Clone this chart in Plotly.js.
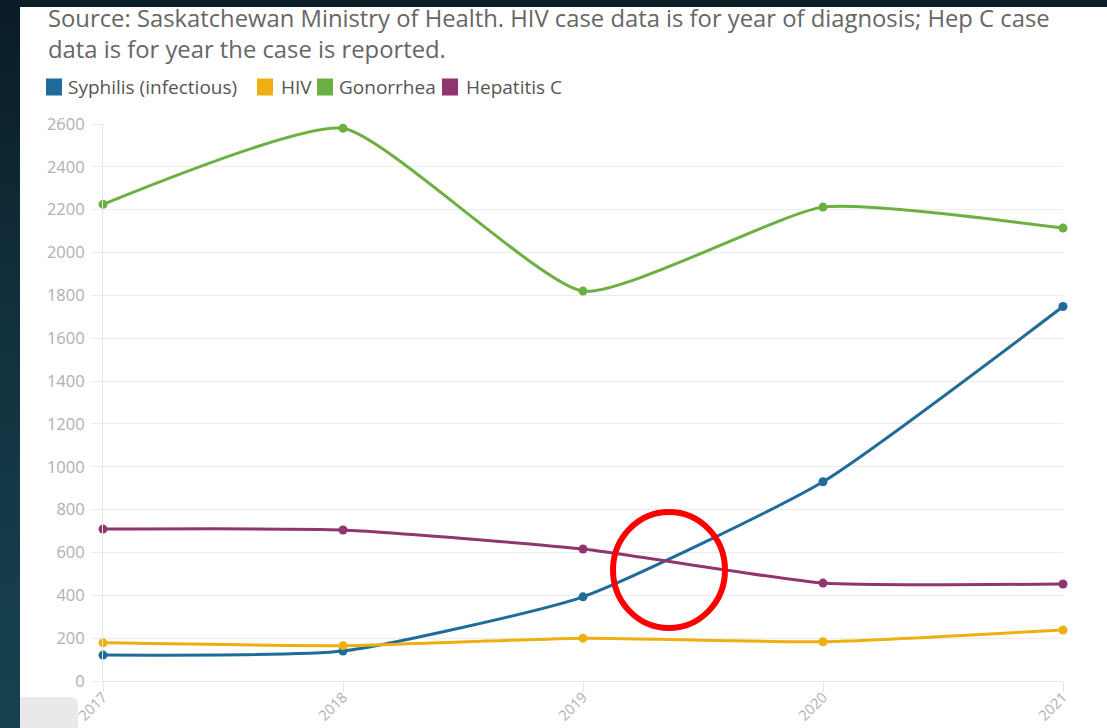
<!DOCTYPE html>
<html>
<head>
<meta charset="utf-8">
<script src="https://cdn.plot.ly/plotly-3.0.1.min.js"></script>
<style>
  html, body { margin:0; padding:0; width:1107px; height:728px; overflow:hidden;
    background: linear-gradient(180deg, #0a1c25 0%, #0f2a36 30%, #143a48 70%, #16414f 100%); }
  #chart { position:absolute; left:20px; top:0px; width:1087px; height:728px; background:#fff; }
  #topbar { position:absolute; left:0; top:0; width:1107px; height:7px; background:#0a1d26; z-index:5; }
  #tab { position:absolute; left:20px; top:697px; width:58px; height:31px; background:#e9e9ec; border-top-right-radius:8px; z-index:5; }
</style>
</head>
<body>
<div id="chart"></div>
<div id="topbar"></div>
<div id="tab"></div>
<script>
// ---- data ----
const years = [2017, 2018, 2019, 2020, 2021];
const syphilis = [121, 140, 393, 930, 1748];
const hiv = [178, 165, 200, 183, 238];
const gonorrhea = [2225, 2580, 1820, 2212, 2114];
const hepatitisC = [709, 705, 616, 457, 453];
const seriesNames = ["Syphilis (infectious)", "HIV", "Gonorrhea", "Hepatitis C"];
const yTicks = [0, 200, 400, 600, 800, 1000, 1200, 1400, 1600, 1800, 2000, 2200, 2400, 2600];
const titleLines = ["Source: Saskatchewan Ministry of Health. HIV case data is for year of diagnosis; Hep C case",
                    "data is for year the case is reported."];

// ---- styles ----
const colors = ["#1f6b99", "#eeb011", "#6cb042", "#913571"];
const seriesValues = [syphilis, hiv, gonorrhea, hepatitisC];
const FONT = "Open Sans, Lato, sans-serif";

// plot area in page px: left 103, right 1063, top 124, bottom 681
const PL = 103, PR = 1063, PT = 124, PB = 681;
const DIV_LEFT = 20, DIV_W = 1087, DIV_H = 728;
const px2x = p => (p - PL) / (PR - PL);
const px2y = p => (PB - p) / (PB - PT);

const traces = seriesValues.map((vals, i) => ({
  x: years, y: vals, name: seriesNames[i], type: "scatter", mode: "lines+markers",
  line: { color: colors[i], width: 3, shape: "spline", smoothing: 0.5 },
  marker: { color: colors[i], size: 9 },
  cliponaxis: false, showlegend: false, hoverinfo: "x+y+name"
}));

const shapes = [];
const annotations = [];

// title (one wrapped paragraph, real text)
annotations.push({
  xref: "paper", yref: "paper", x: px2x(46), y: px2y(33.5),
  xanchor: "left", yanchor: "middle", align: "left", showarrow: false,
  text: titleLines.join("<br>"),
  font: { family: FONT, size: 23.8, color: "#666" }
});

// manual compact legend
const legendSquareLeft = [47, 258, 318, 443];
const legendTextLeft = [66, 279, 337, 464];
const legendCenterY = 87;
seriesNames.forEach((nm, i) => {
  const l = legendSquareLeft[i], r = l + 14, t = legendCenterY - 7.5, b = legendCenterY + 7.5;
  shapes.push({
    type: "rect", xref: "paper", yref: "paper",
    x0: px2x(l), x1: px2x(r), y0: px2y(b), y1: px2y(t),
    fillcolor: colors[i], line: { width: 2, color: colors[i] }, layer: "above"
  });
  annotations.push({
    xref: "paper", yref: "paper", x: px2x(legendTextLeft[i]), y: px2y(legendCenterY),
    xanchor: "left", yanchor: "middle", showarrow: false, text: nm,
    font: { family: FONT, size: 19, color: "#555" }
  });
});

// red highlight circle
shapes.push({
  type: "circle", xref: "paper", yref: "paper",
  x0: px2x(613), x1: px2x(725), y0: px2y(628), y1: px2y(512),
  line: { color: "#ff0000", width: 6 }, fillcolor: "rgba(0,0,0,0)", layer: "above"
});

const layout = {
  width: DIV_W, height: DIV_H,
  margin: { l: PL - DIV_LEFT, r: DIV_W - (PR - DIV_LEFT), t: PT, b: DIV_H - PB, pad: 0 },
  paper_bgcolor: "#ffffff", plot_bgcolor: "#ffffff",
  xaxis: {
    range: [2017, 2021], tickvals: years, ticktext: years.map(String),
    tickangle: -45, showgrid: false, zeroline: false,
    showline: true, linecolor: "#e6e6e6", linewidth: 1,
    ticks: "outside", ticklen: 10, tickcolor: "#e6e6e6", ticklabelstandoff: -9,
    tickfont: { family: FONT, size: 14.5, color: "#b0b0b0" }, fixedrange: true
  },
  yaxis: {
    range: [0, 2600], tickvals: yTicks, showgrid: true, gridcolor: "#ececec", gridwidth: 1,
    zeroline: false, showline: true, linecolor: "#e6e6e6", linewidth: 1,
    ticks: "outside", ticklen: 11, tickcolor: "#ececec", ticklabelstandoff: 3,
    tickfont: { family: FONT, size: 16.5, color: "#b0b0b0" }, fixedrange: true
  },
  shapes: shapes, annotations: annotations, showlegend: false
};

Plotly.newPlot("chart", traces, layout, { displayModeBar: false, staticPlot: true });
</script>
</body>
</html>
